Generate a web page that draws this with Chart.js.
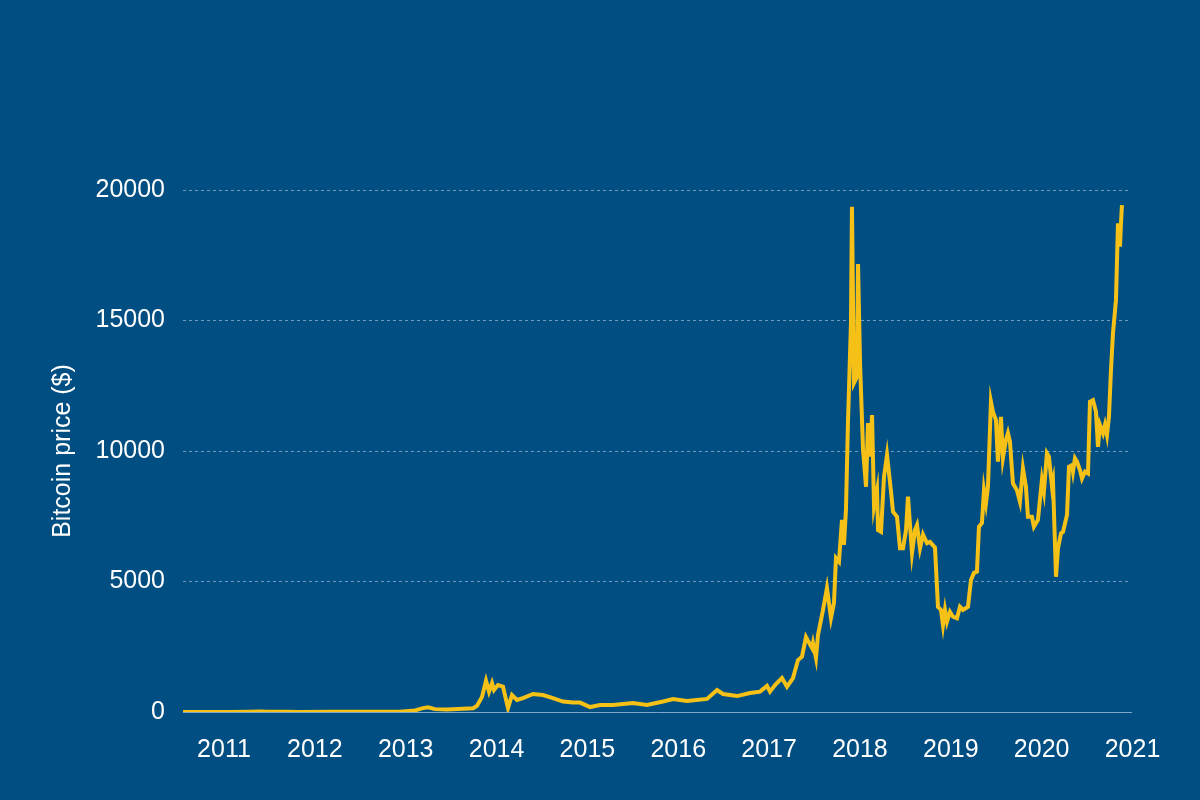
<!DOCTYPE html>
<html><head><meta charset="utf-8">
<script src="https://cdn.jsdelivr.net/npm/chart.js@4.4.0/dist/chart.umd.min.js"></script>
<style>
html,body{margin:0;padding:0;background:#014e82;}
#wrap{width:1200px;height:800px;position:relative;}
</style>
</head><body>
<div id="wrap"><canvas id="c" width="1200" height="800"></canvas></div>
<script>
// Decimal-year dates and weekly-ish Bitcoin prices (USD)
const dates = [
  2010.571, 2010.80, 2011.088, 2011.30, 2011.418, 2011.50, 2011.70, 2011.858, 2012.20, 2012.409, 2012.70, 2012.959,
  2013.124, 2013.212, 2013.268, 2013.345, 2013.477, 2013.763, 2013.807, 2013.862, 2013.906, 2013.939, 2013.972,
  2013.994, 2014.038, 2014.093, 2014.148, 2014.192, 2014.247, 2014.313, 2014.423, 2014.533, 2014.643, 2014.753,
  2014.864, 2014.941, 2015.051, 2015.161, 2015.304, 2015.524, 2015.678, 2015.854, 2015.964, 2016.118, 2016.339,
  2016.449, 2016.515, 2016.669, 2016.812, 2016.922, 2016.999, 2017.032, 2017.087, 2017.164, 2017.219, 2017.285,
  2017.340, 2017.384, 2017.428, 2017.494, 2017.505, 2017.538, 2017.560, 2017.615, 2017.659, 2017.703, 2017.736,
  2017.758, 2017.791, 2017.824, 2017.846, 2017.868, 2017.890, 2017.923, 2017.934, 2017.956, 2017.990, 2018.001,
  2018.023, 2018.056, 2018.089, 2018.111, 2018.133, 2018.155, 2018.177, 2018.210, 2018.221, 2018.254, 2018.287,
  2018.320, 2018.364, 2018.386, 2018.430, 2018.463, 2018.496, 2018.529, 2018.551, 2018.595, 2018.628, 2018.650,
  2018.683, 2018.716, 2018.760, 2018.793, 2018.848, 2018.881, 2018.914, 2018.936, 2018.958, 2018.980, 2019.013,
  2019.046, 2019.090, 2019.123, 2019.156, 2019.211, 2019.244, 2019.277, 2019.310, 2019.332, 2019.365, 2019.387,
  2019.409, 2019.431, 2019.464, 2019.486, 2019.519, 2019.541, 2019.574, 2019.596, 2019.629, 2019.651, 2019.673,
  2019.706, 2019.750, 2019.783, 2019.816, 2019.849, 2019.871, 2019.915, 2019.937, 2019.981, 2020.025, 2020.047,
  2020.080, 2020.102, 2020.136, 2020.147, 2020.180, 2020.202, 2020.235, 2020.257, 2020.301, 2020.323, 2020.356,
  2020.367, 2020.389, 2020.411, 2020.444, 2020.466, 2020.499, 2020.532, 2020.554, 2020.587, 2020.620, 2020.642,
  2020.664, 2020.697, 2020.719, 2020.741, 2020.763, 2020.785, 2020.807, 2020.840, 2020.862, 2020.884, 2020.895,
  2020.906
];
const prices = [
  0.1, 0.3, 1, 8, 20, 14, 5, 3, 5, 6, 11, 13,
  60, 150, 180, 110, 100, 140, 240, 580, 1200, 780, 1110,
  840, 1030, 970, 150, 650, 460, 530, 690, 650, 530, 400,
  360, 360, 190, 270, 270, 340, 270, 400, 500, 420, 500,
  840, 690, 610, 730, 780, 1000, 780, 1030, 1300, 970, 1300,
  1990, 2120, 2870, 2450, 2640, 2070, 2950, 3900, 4750, 3600, 4180,
  5900, 5760, 7360, 6400, 7740, 11070, 14900, 19360, 12600, 12850, 17160,
  13370, 10040, 8630, 11070, 9780, 11380, 7870, 8500, 6970, 6900, 9020,
  9850, 8440, 7670, 7480, 6270, 6270, 6970, 8250, 6090, 6970, 7160,
  6270, 6800, 6470, 6520, 6300, 4030, 3910, 3330, 3910, 3460, 3840,
  3650, 3590, 4030, 3910, 4030, 5060, 5330, 5380, 7100, 7240, 8500,
  8000, 8630, 11890, 11500, 11190, 9590, 11310, 9730, 10420, 10690, 10360,
  8760, 8500, 8060, 9340, 8630, 7480, 7480, 7100, 7360, 8890, 8440,
  9910, 9780, 8630, 8820, 5180, 6270, 6850, 6900, 7550, 9400, 9460,
  9210, 9720, 9590, 9270, 8950, 9210, 9140, 11890, 11950, 11500, 10160,
  11000, 10680, 11000, 10610, 11310, 13100, 14510, 15780, 18720, 17830, 18720,
  19420
];
const xTickLabels = ['2011','2012','2013','2014','2015','2016','2017','2018','2019','2020','2021'];
const yTickValues = [0, 5000, 10000, 15000, 20000];

const FONT = {family: "'Liberation Sans', Arial, Helvetica, sans-serif", size: 25};

new Chart(document.getElementById('c').getContext('2d'), {
  type: 'line',
  data: {
    datasets: [{
      data: dates.map((d, i) => ({x: d, y: prices[i]})),
      borderColor: '#f5c116',
      borderWidth: 4,
      pointRadius: 0,
      tension: 0,
      fill: false,
      borderJoinStyle: 'miter'
    }]
  },
  options: {
    responsive: false,
    animation: false,
    layout: {padding: {top: 190, right: 69, left: 0, bottom: 0}},
    plugins: {legend: {display: false}, tooltip: {enabled: false}},
    scales: {
      x: {
        type: 'linear',
        min: 2010.5707,
        max: 2021.0055,
        afterBuildTicks: s => { s.ticks = xTickLabels.map(l => ({value: Number(l)})); },
        ticks: {
          callback: (v, i) => xTickLabels[i],
          labelOffset: 2,
          padding: 23,
          color: '#ffffff',
          font: FONT,
          maxRotation: 0,
          autoSkip: false
        },
        grid: {display: false, drawTicks: false},
        border: {display: true, color: '#7fa6cc', width: 1},
        afterFit: s => { s.height = 88; }
      },
      y: {
        min: 0,
        max: 20000,
        afterBuildTicks: s => { s.ticks = yTickValues.map(v => ({value: v})); },
        ticks: {
          callback: v => String(v),
          padding: 18,
          color: '#ffffff',
          font: FONT
        },
        grid: {
          color: c => (c.tick && c.tick.value === 0) ? 'rgba(0,0,0,0)' : 'rgba(205,220,238,0.55)',
          lineWidth: 1,
          drawTicks: false
        },
        border: {display: false, dash: [3, 3]},
        title: {
          display: true,
          text: 'Bitcoin price ($)',
          color: '#ffffff',
          font: FONT,
          padding: {top: 48, bottom: 0}
        },
        afterFit: s => { s.width = 183; }
      }
    }
  }
});
</script>
</body></html>
